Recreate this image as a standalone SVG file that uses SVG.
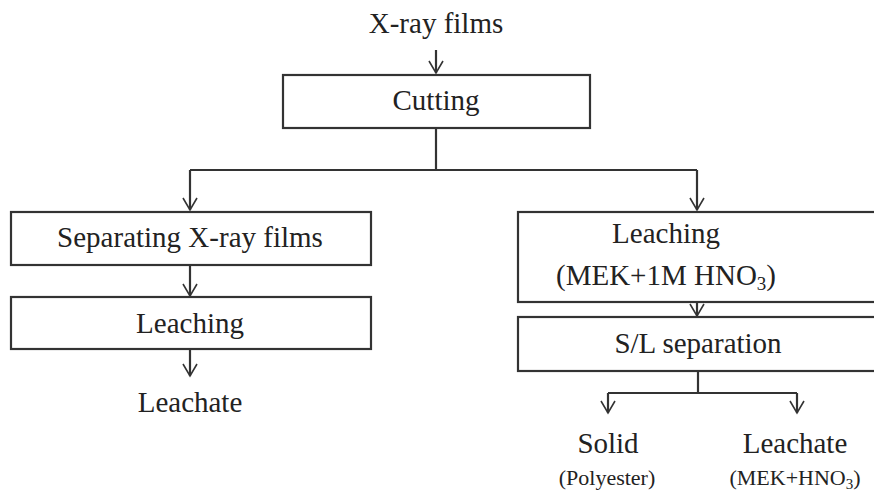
<svg xmlns="http://www.w3.org/2000/svg" width="874" height="491" viewBox="0 0 874 491">
<defs>
<style>
.box{fill:#fff;stroke:#333;stroke-width:2.2}
.ln{fill:none;stroke:#333;stroke-width:2.2}
text{font-family:"Liberation Serif","Tinos","Times New Roman","Times","Nimbus Roman","Nimbus Roman No9 L","Noto Serif","DejaVu Serif","FreeSerif",serif;fill:#222;text-anchor:middle}
.t{font-size:29px}
.s{font-size:22px}
</style>
<marker id="ah" markerUnits="userSpaceOnUse" markerWidth="16" markerHeight="16" viewBox="-14 -8 16 16" refX="0" refY="0" orient="auto" overflow="visible">
<path d="M-12,-7 L0,0 L-12,7" fill="none" stroke="#333" stroke-width="1.6"/>
</marker>
</defs>
<rect width="874" height="491" fill="#fff"/>
<g id="connectors">
<path class="ln" d="M436,50 V73" marker-end="url(#ah)"/>
<path class="ln" d="M436,128 V170"/>
<path class="ln" d="M190,170 H697"/>
<path class="ln" d="M190,170 V210" marker-end="url(#ah)"/>
<path class="ln" d="M697,170 V210" marker-end="url(#ah)"/>
<path class="ln" d="M190,265 V296" marker-end="url(#ah)"/>
<path class="ln" d="M190,349 V376" marker-end="url(#ah)"/>
<path class="ln" d="M697,302 V316" marker-end="url(#ah)"/>
<path class="ln" d="M698,371 V393"/>
<path class="ln" d="M608,393 H797"/>
<path class="ln" d="M608,393 V413" marker-end="url(#ah)"/>
<path class="ln" d="M797,393 V413" marker-end="url(#ah)"/>
</g>
<g id="xray"><text class="t" x="436" y="33">X-ray films</text></g>
<g id="cutting"><rect class="box" x="283" y="75" width="307" height="53"/><text class="t" x="436" y="110">Cutting</text></g>
<g id="separating"><rect class="box" x="11" y="212" width="360" height="53"/><text class="t" x="190" y="247">Separating X-ray films</text></g>
<g id="leaching-left"><rect class="box" x="11" y="297" width="360" height="52"/><text class="t" x="190" y="333">Leaching</text></g>
<g id="leachate-left"><text class="t" x="190" y="412">Leachate</text></g>
<g id="leaching-right"><rect class="box" x="518" y="212" width="370" height="90"/><text class="t" x="666" y="243">Leaching</text><text class="t" x="666" y="285">(MEK+1M HNO<tspan font-size="19" dy="5">3</tspan><tspan dy="-5">)</tspan></text></g>
<g id="sl"><rect class="box" x="518" y="317" width="370" height="54"/><text class="t" x="698" y="353">S/L separation</text></g>
<g id="solid"><text class="t" x="608" y="453">Solid</text><text class="s" x="607" y="485">(Polyester)</text></g>
<g id="leachate-right"><text class="t" x="795" y="453">Leachate</text><text class="s" x="795" y="485">(MEK+HNO<tspan font-size="15" dy="4">3</tspan><tspan dy="-4">)</tspan></text></g>
</svg>
